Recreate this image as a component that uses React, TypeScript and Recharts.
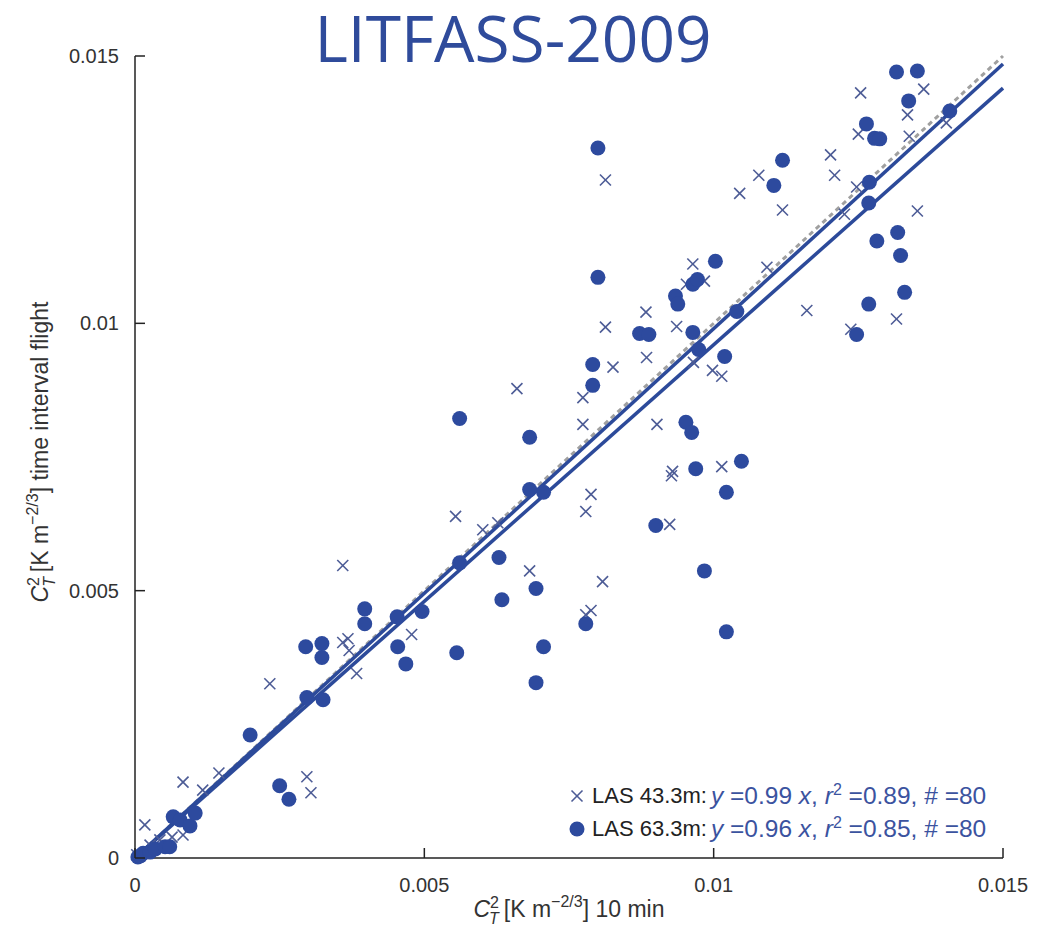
import React from 'react'
import { ScatterChart, Scatter, XAxis, YAxis, ReferenceLine } from 'recharts'

const INK = '#222'
const DOT = '#2d4a9e'
const CROSS = '#4d5c96'
const FIT = '#2c4a9a'
const TEXT_BLUE = '#3b539f'
const FONT = '"Liberation Sans", Arial, sans-serif'

const TICKS = [0, 0.005, 0.01, 0.015]
const TICK_LABELS = ['0', '0.005', '0.01', '0.015']

const SLOPE_43 = 0.99
const SLOPE_63 = 0.96
const X_MAX = 0.015

// LAS 43.3m (crosses)
const las43 = [
  [0.00003, 0.00006], [0.00017, 0.00062], [0.00026, 0.00024], [0.00043, 0.00034], [0.00064, 0.00039],
  [0.00083, 0.00043], [0.00083, 0.00142], [0.00117, 0.00127], [0.00145, 0.00159], [0.00233, 0.00326],
  [0.00297, 0.00152], [0.00304, 0.00122], [0.00359, 0.00403], [0.00368, 0.0041], [0.0037, 0.00388],
  [0.00383, 0.00345], [0.00359, 0.00547], [0.00478, 0.00418], [0.00554, 0.00639], [0.00601, 0.00614],
  [0.00627, 0.00627], [0.0066, 0.00878], [0.00682, 0.00537], [0.00774, 0.00861], [0.00774, 0.00811],
  [0.00788, 0.0068], [0.00779, 0.00648], [0.00788, 0.00463], [0.00779, 0.00455], [0.00808, 0.00517],
  [0.00813, 0.01268], [0.00813, 0.00993], [0.00826, 0.00918], [0.00883, 0.01021], [0.00884, 0.00936],
  [0.00902, 0.00811], [0.00924, 0.00624], [0.00929, 0.00723], [0.00927, 0.00715], [0.00936, 0.00994],
  [0.00953, 0.01073], [0.00964, 0.01111], [0.00984, 0.01079], [0.00965, 0.00927], [0.00998, 0.00912],
  [0.01014, 0.00901], [0.01014, 0.00732], [0.01045, 0.01243], [0.01078, 0.01277], [0.01119, 0.01212],
  [0.01092, 0.01105], [0.01161, 0.01024], [0.01202, 0.01315], [0.01209, 0.01277], [0.01247, 0.01255],
  [0.01254, 0.01431], [0.0125, 0.01354], [0.01237, 0.00989], [0.01316, 0.01008], [0.01335, 0.0139],
  [0.01338, 0.0135], [0.01363, 0.01438], [0.01402, 0.01375], [0.01352, 0.0121], [0.01226, 0.01204],
].map(([x, y]) => ({ x, y }))

// LAS 63.3m (filled circles)
const las63 = [
  [0.00005, 0.00002], [0.00009, 0.00004], [0.00014, 0.00009], [0.00026, 0.00011], [0.00035, 0.00017],
  [0.00052, 0.00021], [0.0006, 0.00021], [0.00066, 0.00077], [0.00078, 0.00071], [0.00095, 0.0006],
  [0.00104, 0.00084], [0.00199, 0.0023], [0.0025, 0.00135], [0.00266, 0.0011], [0.00295, 0.00395],
  [0.00323, 0.00401], [0.00323, 0.00375], [0.00297, 0.003], [0.00325, 0.00296], [0.00397, 0.00466],
  [0.00397, 0.00438], [0.00454, 0.00395], [0.00468, 0.00363], [0.00453, 0.00451], [0.00496, 0.00461],
  [0.00561, 0.00822], [0.00561, 0.00552], [0.00556, 0.00384], [0.00629, 0.00562], [0.00634, 0.00483],
  [0.00682, 0.00787], [0.00682, 0.00689], [0.00706, 0.00684], [0.00693, 0.00504], [0.00706, 0.00395],
  [0.00693, 0.00328], [0.00779, 0.00438], [0.00791, 0.00923], [0.00791, 0.00884], [0.008, 0.01328],
  [0.008, 0.01086], [0.00872, 0.00981], [0.00888, 0.00979], [0.009, 0.00622], [0.00934, 0.01051],
  [0.00938, 0.01036], [0.00964, 0.01073], [0.00972, 0.01082], [0.00964, 0.00983], [0.00974, 0.00951],
  [0.00952, 0.00815], [0.00962, 0.00796], [0.00969, 0.00728], [0.00984, 0.00537], [0.01003, 0.01116],
  [0.01019, 0.00938], [0.0104, 0.01022], [0.01048, 0.00742], [0.01022, 0.00684], [0.01022, 0.00423],
  [0.01104, 0.01258], [0.01119, 0.01305], [0.01247, 0.00979], [0.01268, 0.01036], [0.01269, 0.01264],
  [0.01268, 0.01225], [0.01264, 0.01373], [0.01278, 0.01346], [0.01287, 0.01345], [0.01282, 0.01154],
  [0.01318, 0.0117], [0.01323, 0.01127], [0.0133, 0.01058], [0.01316, 0.0147], [0.01352, 0.01472],
  [0.01337, 0.01416], [0.01408, 0.01397],
].map(([x, y]) => ({ x, y }))

function Cross({ cx, cy }: { cx?: number; cy?: number }) {
  if (cx == null || cy == null) return null
  const s = 5.5
  return (
    <g stroke={CROSS} strokeWidth={1.6}>
      <line x1={cx - s} y1={cy - s} x2={cx + s} y2={cy + s} />
      <line x1={cx - s} y1={cy + s} x2={cx + s} y2={cy - s} />
    </g>
  )
}

function Dot({ cx, cy }: { cx?: number; cy?: number }) {
  if (cx == null || cy == null) return null
  return <circle cx={cx} cy={cy} r={7.5} fill={DOT} />
}

function XTick({ x, y, payload }: any) {
  const i = TICKS.indexOf(payload.value)
  return (
    <g>
      <line x1={x} y1={y} x2={x} y2={y - 10} stroke={INK} strokeWidth={1.5} />
      <text x={x} y={y + 34} textAnchor="middle" fontSize={20} fill="#333" fontFamily={FONT}>{TICK_LABELS[i]}</text>
    </g>
  )
}

function YTick({ x, y, payload }: any) {
  const i = TICKS.indexOf(payload.value)
  return (
    <g>
      <line x1={x} y1={y} x2={x + 10} y2={y} stroke={INK} strokeWidth={1.5} />
      <text x={x - 16} y={y + 7} textAnchor="end" fontSize={20} fill="#333" fontFamily={FONT}>{TICK_LABELS[i]}</text>
    </g>
  )
}

// C_T^2 [K m^-2/3] ... axis title
function CtLabel({ x, y, rotate, rest }: { x: number; y: number; rotate?: boolean; rest: string }) {
  return (
    <text x={x} y={y} textAnchor="middle" fontSize={23} fill="#333" fontFamily={FONT}
      transform={rotate ? `rotate(-90 ${x} ${y})` : undefined}>
      <tspan fontStyle="italic">C</tspan>
      <tspan fontSize={16} fontStyle="italic" dy={7} dx={-1}>T</tspan>
      <tspan fontSize={16} dy={-16} dx={-9}>2</tspan>
      <tspan dy={9} dx={5}>[K m</tspan>
      <tspan fontSize={16} dy={-10}>−2/3</tspan>
      <tspan dy={10}>] {rest}</tspan>
    </text>
  )
}

function LegendRow({ marker, name, slope, r2 }: { marker: 'x' | 'o'; name: string; slope: string; r2: string }) {
  return (
    <div style={{ display: 'flex', alignItems: 'center', height: 33, whiteSpace: 'nowrap' }}>
      <svg width={26} height={20} style={{ marginRight: 1 }}>
        {marker === 'x' ? <Cross cx={12} cy={10} /> : <Dot cx={12} cy={10} />}
      </svg>
      <span style={{ color: '#222', fontSize: 22 }}>{name}:</span>
      <span style={{ color: TEXT_BLUE, marginLeft: 4, fontSize: 24.5 }}>
        <i>y</i> =<span>{slope}</span> <i>x</i>, <i>r</i><sup style={{ fontSize: 16, lineHeight: 0 }}>2</sup> ={r2}, # =80
      </span>
    </div>
  )
}

export default function App() {
  const W = 1047
  const H = 935
  return (
    <div style={{ position: 'relative', width: W, height: H, background: '#fff', fontFamily: FONT }}>
      <style>{'body{margin:0}'}</style>
      <ScatterChart width={W} height={H} margin={{ top: 56, right: 44, bottom: 0, left: 0 }}>
        <XAxis type="number" dataKey="x" domain={[0, X_MAX]} ticks={TICKS} height={77}
          axisLine={{ stroke: INK, strokeWidth: 1.5 }} tickLine={false} tickSize={0} tickMargin={0}
          tick={<XTick />} interval={0} />
        <YAxis type="number" dataKey="y" domain={[0, X_MAX]} ticks={TICKS} width={135}
          axisLine={{ stroke: INK, strokeWidth: 1.5 }} tickLine={false} tickSize={0} tickMargin={0}
          tick={<YTick />} interval={0} />
        <ReferenceLine segment={[{ x: 0, y: 0 }, { x: X_MAX, y: X_MAX }]} stroke="#a0a0a0" strokeWidth={3} strokeDasharray="5 4" />
        <ReferenceLine segment={[{ x: 0, y: 0 }, { x: X_MAX, y: X_MAX * SLOPE_43 }]} stroke={FIT} strokeWidth={3.5} />
        <ReferenceLine segment={[{ x: 0, y: 0 }, { x: X_MAX, y: X_MAX * SLOPE_63 }]} stroke={FIT} strokeWidth={3.5} />
        <Scatter name="LAS 43.3m" data={las43} shape={<Cross />} isAnimationActive={false} />
        <Scatter name="LAS 63.3m" data={las63} shape={<Dot />} isAnimationActive={false} />
      </ScatterChart>
      <svg style={{ position: 'absolute', left: 0, top: 0, pointerEvents: 'none' }} width={W} height={H}>
        <text x={513} y={62} textAnchor="middle" fontSize={64} fill="#2f4b9b" fontFamily='"Open Sans", sans-serif'>
          LITFASS-2009
        </text>
        <CtLabel x={569} y={917} rest="10 min" />
        <CtLabel x={48} y={452} rotate rest="time interval flight" />
      </svg>
      <div style={{ position: 'absolute', left: 565, top: 779 }}>
        <LegendRow marker="x" name="LAS 43.3m" slope="0.99" r2="0.89" />
        <LegendRow marker="o" name="LAS 63.3m" slope="0.96" r2="0.85" />
      </div>
    </div>
  )
}
